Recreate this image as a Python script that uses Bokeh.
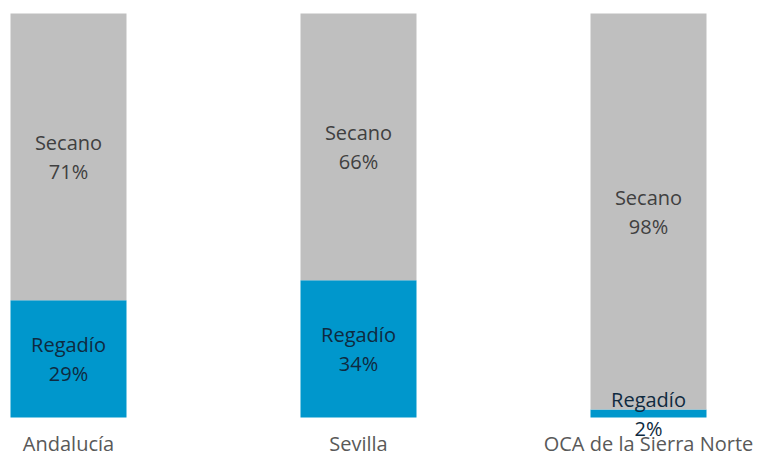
from bokeh.plotting import figure
from bokeh.models import ColumnDataSource, LabelSet, Range1d
from bokeh.core.properties import value
from bokeh.embed import file_html
from bokeh.resources import INLINE

categories = ["Andalucía", "Sevilla", "OCA de la Sierra Norte"]
regadio = [29, 34, 2]
secano = [71, 66, 98]

xs = list(range(len(categories)))
src = ColumnDataSource(dict(
    x=xs,
    base=[0] * len(xs),
    cat=categories,
    regadio=regadio,
    secano=secano,
    reg_mid=[r / 2 for r in regadio],
    sec_mid=[r + s / 2 for r, s in zip(regadio, secano)],
    reg_pct=[f"{r}%" for r in regadio],
    sec_pct=[f"{s}%" for s in secano],
    reg_name=["Regadío"] * len(xs),
    sec_name=["Secano"] * len(xs),
))

W, H = 760, 457
step = 290.0
ppu = 4.04
x0 = -68 / step
p = figure(width=W, height=H, output_backend="svg", toolbar_location=None,
           x_range=Range1d(x0, x0 + W / step),
           y_range=Range1d(-(H - 417) / ppu, 100 + 13 / ppu),
           min_border_left=0, min_border_right=0, min_border_top=0, min_border_bottom=0)
p.outline_line_color = None
p.background_fill_color = "white"
p.border_fill_color = "white"
p.grid.visible = False
p.axis.visible = False

p.vbar_stack(["regadio", "secano"], x="x", width=0.4, source=src,
             color=["#0097CC", "#BFBFBF"], line_color=None)

common = dict(source=src, x="x", text_align="center", text_baseline="middle",
              text_font=value("Open Sans"), text_font_size="20px")
p.add_layout(LabelSet(y="sec_mid", text="sec_name", y_offset=14, text_color="#404040", **common))
p.add_layout(LabelSet(y="sec_mid", text="sec_pct", y_offset=-15, text_color="#404040", **common))
p.add_layout(LabelSet(y="reg_mid", text="reg_name", y_offset=14, text_color="#0F2A40", **common))
p.add_layout(LabelSet(y="reg_mid", text="reg_pct", y_offset=-15, text_color="#0F2A40", **common))
# category axis labels
p.add_layout(LabelSet(y="base", text="cat", y_offset=-26, text_color="#595959", **common))

open("out.html", "w").write(file_html(p, INLINE))
